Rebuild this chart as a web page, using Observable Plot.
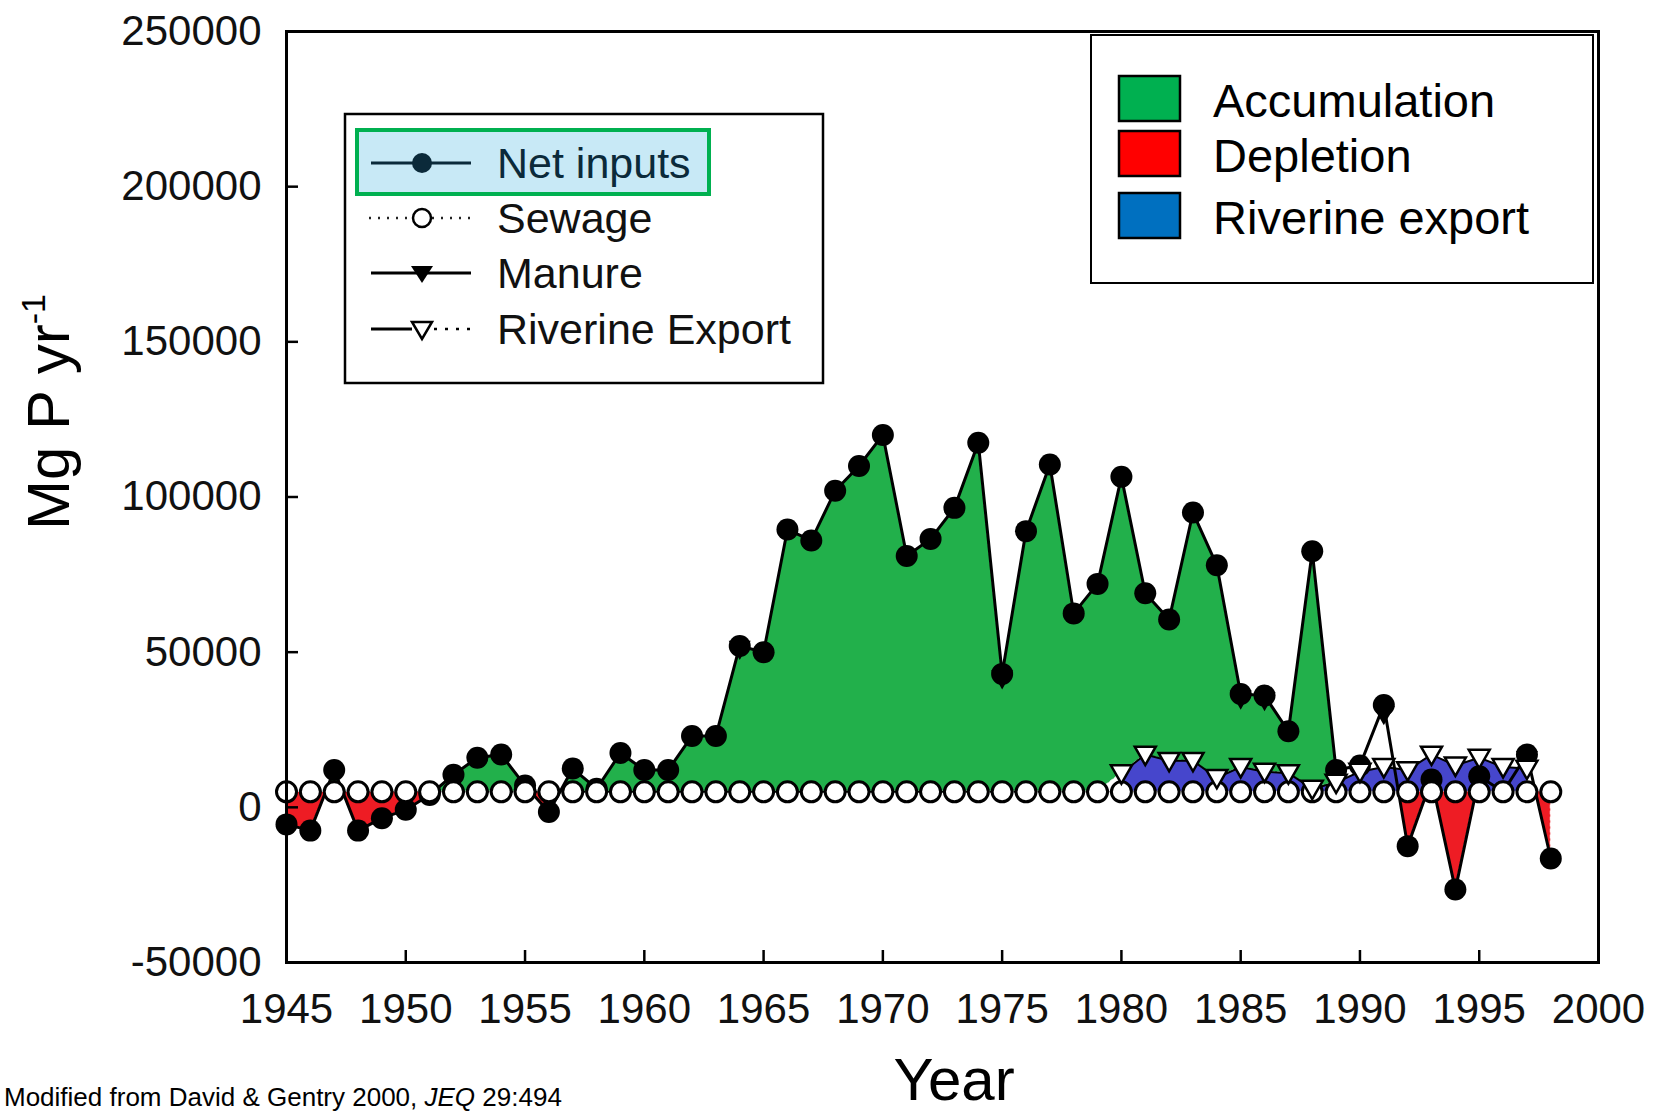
<!DOCTYPE html>
<html>
<head>
<meta charset="utf-8">
<script src="https://cdn.jsdelivr.net/npm/d3@7"></script>
<script src="https://cdn.jsdelivr.net/npm/@observablehq/plot@0.6"></script>
<style>
  html, body { margin: 0; padding: 0; background: white; }
  #wrap { position: relative; width: 1653px; height: 1117px; overflow: hidden; background: white; }
  #chart { position: absolute; left: 0; top: 0; }
  #overlay { position: absolute; left: 0; top: 0; pointer-events: none; }
  text { font-family: 'Liberation Sans', Arial, Helvetica, sans-serif; }
</style>
</head>
<body>
<div id="wrap">
  <div id="chart"></div>
</div>
<script>
// ---------------- data ----------------
const years = [1945,1946,1947,1948,1949,1950,1951,1952,1953,1954,1955,1956,1957,1958,1959,1960,1961,1962,1963,1964,1965,1966,1967,1968,1969,1970,1971,1972,1973,1974,1975,1976,1977,1978,1979,1980,1981,1982,1983,1984,1985,1986,1987,1988,1989,1990,1991,1992,1993,1994,1995,1996,1997,1998];
const netInputs = [-5500,-7500,12000,-7500,-3500,-800,4000,10500,16000,17000,7000,-1500,12500,6000,17500,12000,12000,23000,23000,52000,50000,89500,86000,102000,110000,120000,81000,86500,96500,117500,43000,89000,110500,62500,72000,106500,69000,60500,95000,78000,36500,36000,24500,82500,12000,13500,33000,-12500,9000,-26500,10000,5000,17000,-16500];
const sewage = [5000,5000,5000,5000,5000,5000,5000,5000,5000,5000,5000,5000,5000,5000,5000,5000,5000,5000,5000,5000,5000,5000,5000,5000,5000,5000,5000,5000,5000,5000,5000,5000,5000,5000,5000,5000,5000,5000,5000,5000,5000,5000,5000,5000,5000,5000,5000,5000,5000,5000,5000,5000,5000,5000];
const manure = [null,null,null,null,null,null,null,null,null,null,null,null,null,null,null,null,null,null,null,51000,null,null,null,null,null,null,null,null,null,null,41500,null,null,null,null,null,null,null,null,null,35000,34500,null,null,null,null,30000,null,null,null,null,null,15500,null];
const riverineExport = [null,null,null,null,null,null,null,null,null,null,null,null,null,null,null,null,null,null,null,null,null,null,null,null,null,null,null,null,null,null,null,null,null,null,null,11000,17000,15000,15000,9500,13000,11500,11000,6000,8000,11500,13000,12000,17000,13500,16000,13000,12500,null];
const accumulationEndYear = 1989;
const xTicks = [1945,1950,1955,1960,1965,1970,1975,1980,1985,1990,1995,2000];
const yTicks = [-50000,0,50000,100000,150000,200000,250000];
const lineLegend = ["Net inputs","Sewage","Manure","Riverine Export"];
const areaLegend = ["Accumulation","Depletion","Riverine export"];
const areaColors = ["#00b050","#ff0000","#0070c0"];

// ---------------- build table ----------------
const rows = years.map((year, i) => ({
  year,
  net: netInputs[i],
  sewage: sewage[i],
  manure: manure[i],
  exp: riverineExport[i],
  base: riverineExport[i] == null ? sewage[i] : riverineExport[i]
}));

// insert the exact crossing points of the polyline with its baseline (for fills)
function withCrossings(data, f) {
  const out = [];
  for (let i = 0; i < data.length; i++) {
    const a = data[i];
    out.push(a);
    const b = data[i + 1];
    if (!b) break;
    const fa = f(a), fb = f(b);
    if (fa * fb < 0) {
      const t = fa / (fa - fb);
      const p = {};
      for (const k of ["year","net","base","sewage"]) p[k] = a[k] + t * (b[k] - a[k]);
      out.push(p);
    }
  }
  return out;
}
const greenRows = withCrossings(rows.filter(d => d.year <= accumulationEndYear), d => d.net - d.base);
const redRows = withCrossings(rows, d => d.net - d.sewage);
const expRows = rows.filter(d => d.exp != null);
const manureRows = rows.filter(d => d.manure != null);

const triDown = {
  draw(ctx, size) {
    const r = Math.sqrt(size / Math.PI);
    ctx.moveTo(-r, -r * 0.75);
    ctx.lineTo(r, -r * 0.75);
    ctx.lineTo(0, r * 1.0);
    ctx.closePath();
  }
};

const W = 1653, H = 1117;
const mL = 286, mR = 55, mT = 31, mB = 155;
const plotW = W - mL - mR, plotH = H - mT - mB;
const tickLen = 12;

const chart = Plot.plot({
  width: W,
  height: H,
  marginLeft: mL,
  marginRight: mR,
  marginTop: mT,
  marginBottom: mB,
  style: {fontFamily: "'Liberation Sans', Arial, Helvetica, sans-serif", fontSize: "42px", color: "#111", background: "white"},
  x: {domain: [1945, 2000]},
  y: {domain: [-50000, 250000]},
  marks: [
    Plot.areaY(expRows, {x: "year", y1: "sewage", y2: "exp", fill: "#4646cc", stroke: "white", strokeWidth: 1, strokeDasharray: "3 3"}),
    Plot.areaY(greenRows, {x: "year", y1: "base", y2: d => Math.max(d.net, d.base), fill: "#22b04b", stroke: "white", strokeWidth: 1, strokeDasharray: "3 3"}),
    Plot.areaY(redRows, {x: "year", y1: d => Math.min(d.net, d.sewage), y2: "sewage", fill: "#ee1c24", stroke: "white", strokeWidth: 1, strokeDasharray: "3 3"}),
    Plot.line(rows, {x: "year", y: "net", stroke: "black", strokeWidth: 3}),
    Plot.dot(rows, {x: "year", y: "net", r: 11, fill: "black"}),
    Plot.dot(manureRows, {x: "year", y: "manure", r: 11, symbol: triDown, fill: "black"}),
    Plot.line(rows, {x: "year", y: "sewage", stroke: "black", strokeWidth: 2, strokeDasharray: "2 6"}),
    Plot.dot(rows, {x: "year", y: "sewage", r: 10, fill: "white", stroke: "black", strokeWidth: 3}),
    Plot.line(expRows, {x: "year", y: "exp", stroke: "black", strokeWidth: 2}),
    Plot.dot(expRows, {x: "year", y: "exp", r: 10.5, symbol: triDown, fill: "white", stroke: "black", strokeWidth: 2.5}),
    Plot.tickY(yTicks.slice(1, -1), {y: d => d, stroke: "black", strokeWidth: 2.5, insetRight: plotW - tickLen}),
    Plot.tickX(xTicks.slice(1, -1), {x: d => d, stroke: "black", strokeWidth: 2.5, insetTop: plotH - tickLen}),
    Plot.frame({stroke: "black", strokeWidth: 3}),
    Plot.axisX({ticks: xTicks, tickSize: 0, tickPadding: 31, tickFormat: d => String(d), label: null}),
    Plot.axisY({ticks: yTicks, tickSize: 0, tickPadding: 25, tickFormat: d => String(d), label: null})
  ]
});
document.getElementById("chart").appendChild(chart);

// ---------------- overlay: legends and labels ----------------
const ns = "http://www.w3.org/2000/svg";
const ov = d3.select("#wrap").append("svg")
  .attr("id", "overlay").attr("width", W).attr("height", H)
  .attr("xmlns", ns);

// Legend 1 (line series)
ov.append("rect").attr("x", 345).attr("y", 114).attr("width", 478).attr("height", 269)
  .attr("fill", "white").attr("stroke", "black").attr("stroke-width", 2.5);
ov.append("rect").attr("x", 357).attr("y", 130).attr("width", 352).attr("height", 64)
  .attr("fill", "#c8e9f6").attr("stroke", "#00b050").attr("stroke-width", 4);
const rowY = [163, 218, 273, 329];
const symX = 422, lx1 = 371, lx2 = 471, textX = 497;
const navy = "#0b2a3a";
// Net inputs
ov.append("line").attr("x1", lx1).attr("x2", lx2).attr("y1", rowY[0]).attr("y2", rowY[0]).attr("stroke", navy).attr("stroke-width", 3);
ov.append("circle").attr("cx", symX).attr("cy", rowY[0]).attr("r", 10).attr("fill", navy);
// Sewage
ov.append("line").attr("x1", lx1 - 2).attr("x2", lx2).attr("y1", rowY[1]).attr("y2", rowY[1]).attr("stroke", "#222").attr("stroke-width", 2.5).attr("stroke-dasharray", "2 7");
ov.append("circle").attr("cx", symX).attr("cy", rowY[1]).attr("r", 9).attr("fill", "white").attr("stroke", "black").attr("stroke-width", 2.5);
// Manure
ov.append("line").attr("x1", lx1).attr("x2", lx2).attr("y1", rowY[2]).attr("y2", rowY[2]).attr("stroke", "black").attr("stroke-width", 3);
ov.append("path").attr("d", `M${symX-11},${rowY[2]-7}L${symX+11},${rowY[2]-7}L${symX},${rowY[2]+10}Z`).attr("fill", "black");
// Riverine export
ov.append("line").attr("x1", lx1).attr("x2", symX - 10).attr("y1", rowY[3]).attr("y2", rowY[3]).attr("stroke", "black").attr("stroke-width", 3);
ov.append("line").attr("x1", symX + 12).attr("x2", lx2 + 4).attr("y1", rowY[3]).attr("y2", rowY[3]).attr("stroke", "black").attr("stroke-width", 2.5).attr("stroke-dasharray", "3 8");
ov.append("path").attr("d", `M${symX-10},${rowY[3]-7}L${symX+10},${rowY[3]-7}L${symX},${rowY[3]+10}Z`).attr("fill", "white").attr("stroke", "black").attr("stroke-width", 2.5);
lineLegend.forEach((t, i) => {
  ov.append("text").attr("x", textX).attr("y", rowY[i] + 15).attr("font-size", 43)
    .attr("fill", i === 0 ? navy : "#111").text(t);
});

// Legend 2 (areas)
ov.append("rect").attr("x", 1091).attr("y", 35).attr("width", 502).attr("height", 248)
  .attr("fill", "white").attr("stroke", "black").attr("stroke-width", 2);
const swY = [76, 131, 193];
areaLegend.forEach((t, i) => {
  ov.append("rect").attr("x", 1119).attr("y", swY[i]).attr("width", 61).attr("height", 45)
    .attr("fill", areaColors[i]).attr("stroke", "black").attr("stroke-width", 2.5);
  ov.append("text").attr("x", 1213).attr("y", swY[i] + 41).attr("font-size", 47).attr("fill", "black").text(t);
});

// Y axis label
const yl = ov.append("text").attr("transform", "translate(69,412) rotate(-90)")
  .attr("text-anchor", "middle").attr("font-size", 60).attr("fill", "black");
yl.append("tspan").text("Mg P yr");
yl.append("tspan").attr("font-size", 34).attr("dy", -24).text("-1");

// X axis label
ov.append("text").attr("x", 954).attr("y", 1100).attr("text-anchor", "middle")
  .attr("font-size", 60).attr("fill", "black").text("Year");

// Source caption
const cap = ov.append("text").attr("x", 4).attr("y", 1106).attr("font-size", 26).attr("fill", "black");
cap.append("tspan").text("Modified from David & Gentry 2000, ");
cap.append("tspan").attr("font-style", "italic").text("JEQ");
cap.append("tspan").text(" 29:494");
</script>
</body>
</html>
